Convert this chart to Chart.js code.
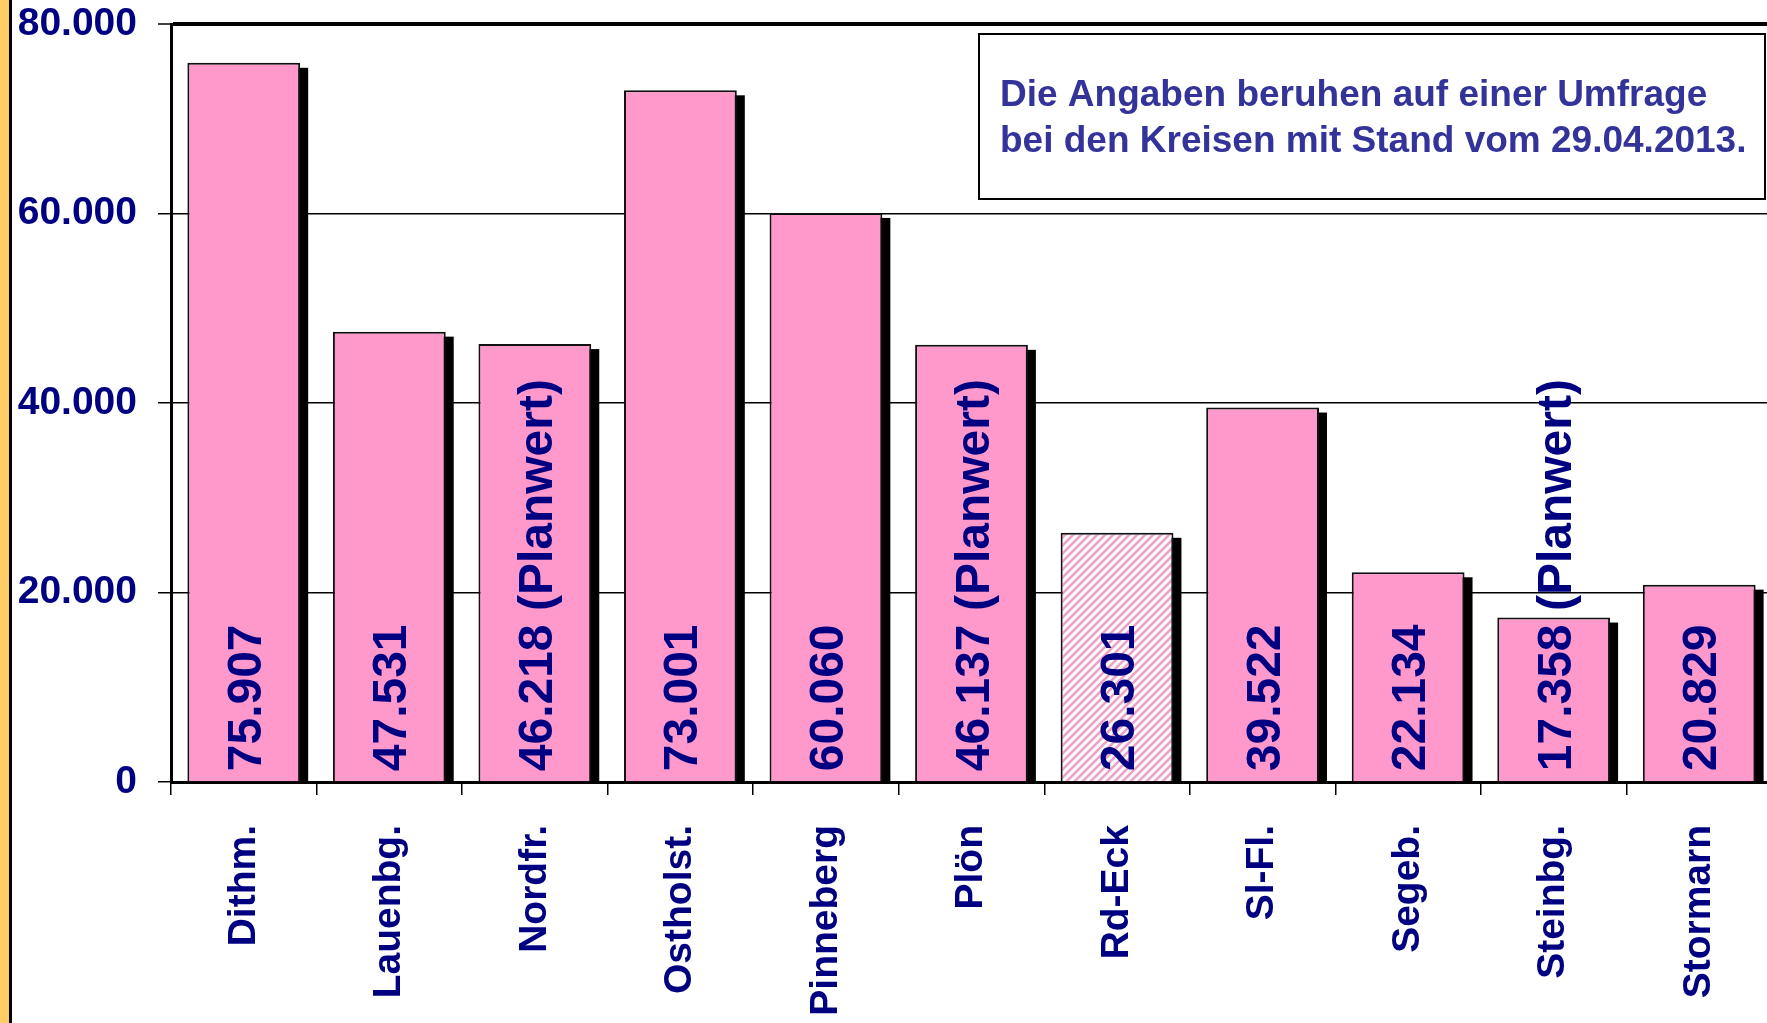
<!DOCTYPE html>
<html lang="de">
<head>
<meta charset="utf-8">
<title>Kreise – Umfragewerte</title>
<script src="https://cdn.jsdelivr.net/npm/chart.js@4.4.1/dist/chart.umd.min.js"></script>
<style>
  html, body { margin: 0; padding: 0; background: #fff; overflow: hidden; }
  #wrap { position: relative; width: 1772px; height: 1023px; }
</style>
</head>
<body>
<div id="wrap"><canvas id="kreiseChart" width="1772" height="1023"></canvas></div>
<script>
// Kreise und Werte
const kreise = ['Dithm.', 'Lauenbg.', 'Nordfr.', 'Ostholst.', 'Pinneberg', 'Plön', 'Rd-Eck', 'Sl-Fl.', 'Segeb.', 'Steinbg.', 'Stormarn'];
const werte = [75907, 47531, 46218, 73001, 60060, 46137, 26301, 39522, 22134, 17358, 20829];
const planwert = [false, false, true, false, false, true, false, false, false, true, false];
const schraffiert = [false, false, false, false, false, false, true, false, false, false, false];
const yTicks = [0, 20000, 40000, 60000, 80000];
const hinweis = ['Die Angaben beruhen auf einer Umfrage', 'bei den Kreisen mit Stand vom 29.04.2013.'];

const FONT = '"Liberation Sans", Arial, Helvetica, sans-serif';
const NAVY = '#000080';
const PINK = '#ff99cc';

// 75907 -> "75.907"
function fmt(v) {
    return String(v).replace(/\B(?=(\d{3})+(?!\d))/g, '.');
}

// Diagonal hatch for the striped bar
function schraffur() {
    const c = document.createElement('canvas');
    c.width = 8; c.height = 8;
    const g = c.getContext('2d');
    g.fillStyle = '#f6fcfc';
    g.fillRect(0, 0, 8, 8);
    g.strokeStyle = '#f0a0c8';
    g.lineWidth = 2.6;
    g.beginPath();
    g.moveTo(0, 8); g.lineTo(8, 0);
    g.moveTo(-4, 4); g.lineTo(4, -4);
    g.moveTo(4, 12); g.lineTo(12, 4);
    g.stroke();
    return g.createPattern(c, 'repeat');
}

// Black drop shadow behind every bar
const schatten = {
    id: 'schatten',
    beforeDatasetsDraw(chart) {
        const ctx = chart.ctx;
        ctx.save();
        ctx.fillStyle = '#000';
        chart.getDatasetMeta(0).data.forEach(bar => {
            const { x, y, base, width } = bar.getProps(['x', 'y', 'base', 'width'], true);
            ctx.fillRect(x - width / 2 + 8, y + 5, width, base - y - 5);
        });
        ctx.restore();
    }
};

// Vertical value labels inside the bars
const wertLabels = {
    id: 'wertLabels',
    afterDatasetsDraw(chart) {
        const ctx = chart.ctx;
        ctx.save();
        ctx.font = 'bold 48px ' + FONT;
        ctx.fillStyle = NAVY;
        ctx.textAlign = 'left';
        ctx.textBaseline = 'alphabetic';
        chart.getDatasetMeta(0).data.forEach((bar, i) => {
            const text = fmt(werte[i]) + (planwert[i] ? ' (Planwert)' : '');
            ctx.save();
            ctx.translate(bar.x, bar.base - 10);
            ctx.rotate(-Math.PI / 2);
            ctx.fillText(text, 0, 17);
            ctx.restore();
        });
        ctx.restore();
    }
};

// Note box, left margin stripe
const rahmen = {
    id: 'rahmen',
    afterDraw(chart) {
        const ctx = chart.ctx;
        ctx.save();
        ctx.fillStyle = '#fff';
        ctx.fillRect(979, 34, 786, 165);
        ctx.strokeStyle = '#000';
        ctx.lineWidth = 2;
        ctx.strokeRect(979, 34, 786, 165);
        ctx.font = 'bold 37px ' + FONT;
        ctx.fillStyle = '#333399';
        ctx.textBaseline = 'middle';
        ctx.fillText(hinweis[0], 1000, 96);
        ctx.fillText(hinweis[1], 1000, 142);

        ctx.fillStyle = '#ffcc66';
        ctx.fillRect(0, 0, 9, chart.height);
        ctx.fillStyle = '#000';
        ctx.fillRect(9, 0, 3, chart.height);
        ctx.restore();
    }
};

const ctx = document.getElementById('kreiseChart').getContext('2d');
const hatch = schraffur();

new Chart(ctx, {
    type: 'bar',
    data: {
        labels: kreise,
        datasets: [{
            data: werte,
            backgroundColor: schraffiert.map(s => s ? hatch : PINK),
            borderColor: '#111',
            borderWidth: 2,
            borderSkipped: 'start',
            barPercentage: 0.775,
            categoryPercentage: 1.0
        }]
    },
    options: {
        responsive: false,
        devicePixelRatio: 1,
        animation: false,
        layout: { padding: { top: 24, left: 0, right: 0, bottom: 0 } },
        plugins: {
            legend: { display: false },
            tooltip: { enabled: false }
        },
        scales: {
            x: {
                grid: {
                    display: true,
                    drawOnChartArea: false,
                    drawTicks: true,
                    tickLength: 13,
                    color: '#000',
                    lineWidth: 1.5,
                    offset: true
                },
                border: { display: true, color: '#000', width: 3 },
                ticks: {
                    color: NAVY,
                    font: { family: FONT, size: 39, weight: 'bold' },
                    minRotation: 90,
                    maxRotation: 90,
                    autoSkip: false,
                    padding: 30
                },
                afterFit(scale) {
                    scale.height = 241;
                    scale.paddingLeft = 0;
                    scale.paddingRight = 0;
                }
            },
            y: {
                min: 0,
                max: 80000,
                afterBuildTicks(scale) {
                    scale.ticks = yTicks.map(v => ({ value: v }));
                },
                grid: {
                    color: '#000',
                    lineWidth: c => (c.tick && c.tick.value === 80000) ? 4 : 1.5,
                    tickLength: 13,
                    tickWidth: 1.5,
                    tickColor: '#000'
                },
                border: { color: '#000', width: 3 },
                ticks: {
                    color: NAVY,
                    font: { family: FONT, size: 39, weight: 'bold' },
                    padding: 21,
                    callback: v => fmt(v)
                },
                afterFit(scale) {
                    scale.width = 171;
                    scale.paddingTop = 0;
                    scale.paddingBottom = 0;
                }
            }
        }
    },
    plugins: [schatten, wertLabels, rahmen]
});
</script>
</body>
</html>
